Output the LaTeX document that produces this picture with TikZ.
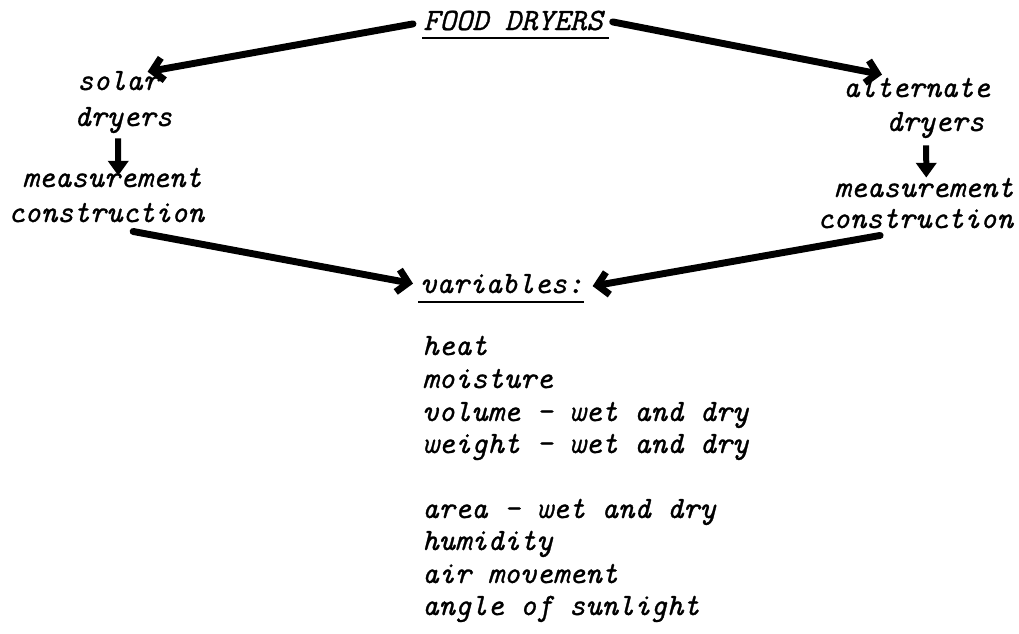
\documentclass[tikz,border=0pt]{standalone}
\usepackage{fontspec}
\usetikzlibrary{arrows.meta}
\newfontfamily\typefont[FakeBold=0.9]{Latin Modern Mono}
\tikzset{
  txt/.style={anchor=base west, inner sep=0pt, font=\fontsize{23.3}{28}\selectfont\typefont\itshape},
  bigarrow/.style={line width=5.2pt, line cap=round, -{Straight Barb[length=8pt,width=17pt]}},
  downarrow/.style={line width=4.5pt, -{Triangle[length=11pt,width=15pt]}},
  uline/.style={line width=1.2pt}
}
\begin{document}
\begin{tikzpicture}[x=0.75pt,y=-0.75pt]
\useasboundingbox[fill=white] (0,0) rectangle (1019,633);
% nodes
\node[txt] (food)  at (423,30)  {FOOD DRYERS};
\node[txt] (solar) at (77,90)   {solar};
\node[txt] (sdry)  at (74,126)  {dryers};
\node[txt] (smeas) at (22,187)  {measurement};
\node[txt] (scons) at (8,222)   {construction};
\node[txt] (alt)   at (843,97)  {alternate};
\node[txt] (adry)  at (886,131) {dryers};
\node[txt] (ameas) at (834,197) {measurement};
\node[txt] (acons) at (817,228) {construction};
\node[txt] (var)   at (420,293) {variables:};
\node[txt] (l1) at (422,355) {heat};
\node[txt] (l2) at (422,388) {moisture};
\node[txt] (l3) at (422,421) {volume - wet and dry};
\node[txt] (l4) at (422,453) {weight - wet and dry};
\node[txt] (l5) at (422,518) {area - wet and dry};
\node[txt] (l6) at (422,550) {humidity};
\node[txt] (l7) at (422,583) {air movement};
\node[txt] (l8) at (422,615) {angle of sunlight};
% underlines
\draw[uline] ([shift={(-1,8)}]food.base west) -- ([shift={(6,8)}]food.base east);
\draw[uline] ([shift={(-2,9)}]var.base west) -- ([shift={(0,9)}]var.base east);
% arrows
\draw[bigarrow] ([shift={(-10,3.4)}]food.west) -- ([shift={(-11.5,1)}]solar.north east);
\draw[bigarrow] ([shift={(9.7,1.4)}]food.east) -- ([shift={(39,-3)}]alt.north west);
\draw[downarrow] ([shift={(-5,5)}]sdry.south) -- ([shift={(6.3,8)}]smeas.north);
\draw[downarrow] ([shift={(-9,7)}]adry.south) -- ([shift={(2.3,0)}]ameas.north);
\draw[bigarrow] ([shift={(27,9)}]scons.south) -- ([shift={(-7,0)}]var.west);
\draw[bigarrow] ([shift={(-35,7)}]acons.south) -- ([shift={(9,2.5)}]var.east);
\end{tikzpicture}
\end{document}
